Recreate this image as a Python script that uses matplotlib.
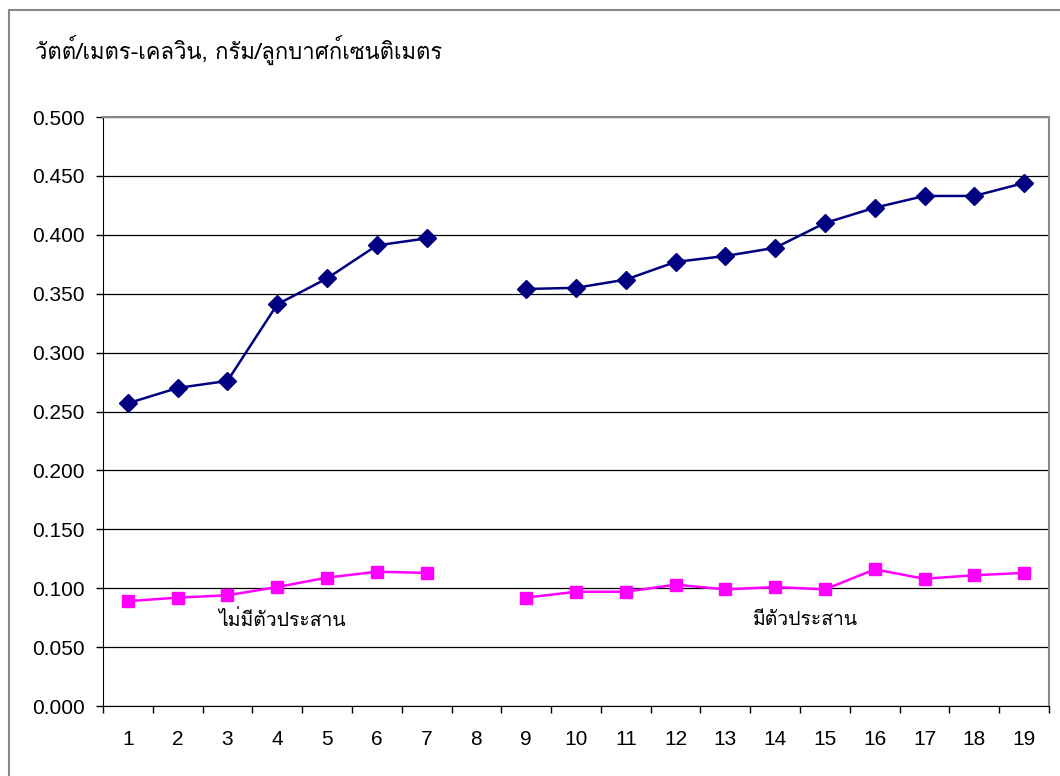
import numpy as np
import matplotlib
matplotlib.use("Agg")
import matplotlib.pyplot as plt
from matplotlib import font_manager, ft2font
from matplotlib.patches import Rectangle

# categories along the x axis (8 is an empty slot between the two groups)
categories = [str(i) for i in range(1, 20)]

conductivity = [0.257, 0.270, 0.276, 0.341, 0.363, 0.391, 0.397, np.nan,
                0.354, 0.355, 0.362, 0.377, 0.382, 0.389, 0.410, 0.423,
                0.433, 0.433, 0.444]
density = [0.089, 0.092, 0.094, 0.101, 0.109, 0.114, 0.113, np.nan,
           0.092, 0.097, 0.097, 0.103, 0.099, 0.101, 0.099, 0.116,
           0.108, 0.111, 0.113]

y_ticks = [0.0, 0.05, 0.10, 0.15, 0.20, 0.25, 0.30, 0.35, 0.40, 0.45, 0.50]

unit_label = "วัตต์/เมตร-เคลวิน, กรัม/ลูกบาศก์เซนติเมตร"
group_labels = ["ไม่มีตัวประสาน", "มีตัวประสาน"]


def find_thai_family():
    # pick the first installed font that actually has Thai glyphs
    for f in font_manager.fontManager.ttflist:
        try:
            cmap = ft2font.FT2Font(f.fname).get_charmap()
        except Exception:
            continue
        if 0x0E01 in cmap and 0x0E31 in cmap:
            return f.name
    return "DejaVu Sans"


thai_family = find_thai_family()
plt.rcParams['font.family'] = ["Liberation Sans", thai_family, "DejaVu Sans"]

fig = plt.figure(figsize=(10.6, 7.76), dpi=100)
ax = fig.add_axes([0.0972, 0.0902, 0.8924, 0.759])

x = np.arange(len(categories))
ax.plot(x, conductivity, color="#000080", lw=1.8, marker="D", ms=9)
ax.plot(x, density, color="#FF00FF", lw=1.8, marker="s", ms=8.5)

ax.set_xlim(-0.5, len(categories) - 0.5)
ax.set_ylim(0, 0.5)
ax.set_yticks(y_ticks)
ax.set_yticklabels(["%.3f" % v for v in y_ticks])
ax.set_xticks(x)
ax.set_xticklabels(categories)
ax.set_xticks(np.arange(-0.5, len(categories)), minor=True)
ax.tick_params(axis="x", which="major", length=0, pad=17, labelsize=15)
ax.tick_params(axis="x", which="minor", length=5, width=1, color="black")
ax.tick_params(axis="y", length=5, width=1, pad=8, labelsize=15)

ax.yaxis.grid(True, color="black", lw=0.9)
ax.set_axisbelow(True)
for side in ["top", "right"]:
    ax.spines[side].set_color("#888888")
    ax.spines[side].set_linewidth(1.5)
ax.spines["left"].set_color("black")
ax.spines["bottom"].set_color("black")

ax.text(3.1, 0.073, group_labels[0], ha="center", va="center", fontsize=14,
        family=[thai_family, "DejaVu Sans"])
ax.text(13.6, 0.073, group_labels[1], ha="center", va="center", fontsize=14,
        family=[thai_family, "DejaVu Sans"])

fig.text(35 / 1060, 1 - 50 / 776, unit_label, ha="left", va="center",
         fontsize=15.9, family=[thai_family, "DejaVu Sans"])

# chart frame: only the left and top edges fall inside the image
fig.patches.append(Rectangle((9 / 1060, -0.1), 2, 1 - 10 / 776 + 0.1,
                             transform=fig.transFigure, fill=False,
                             edgecolor="#888888", lw=1.5))

fig.savefig("out.png", dpi=100, facecolor="white")
